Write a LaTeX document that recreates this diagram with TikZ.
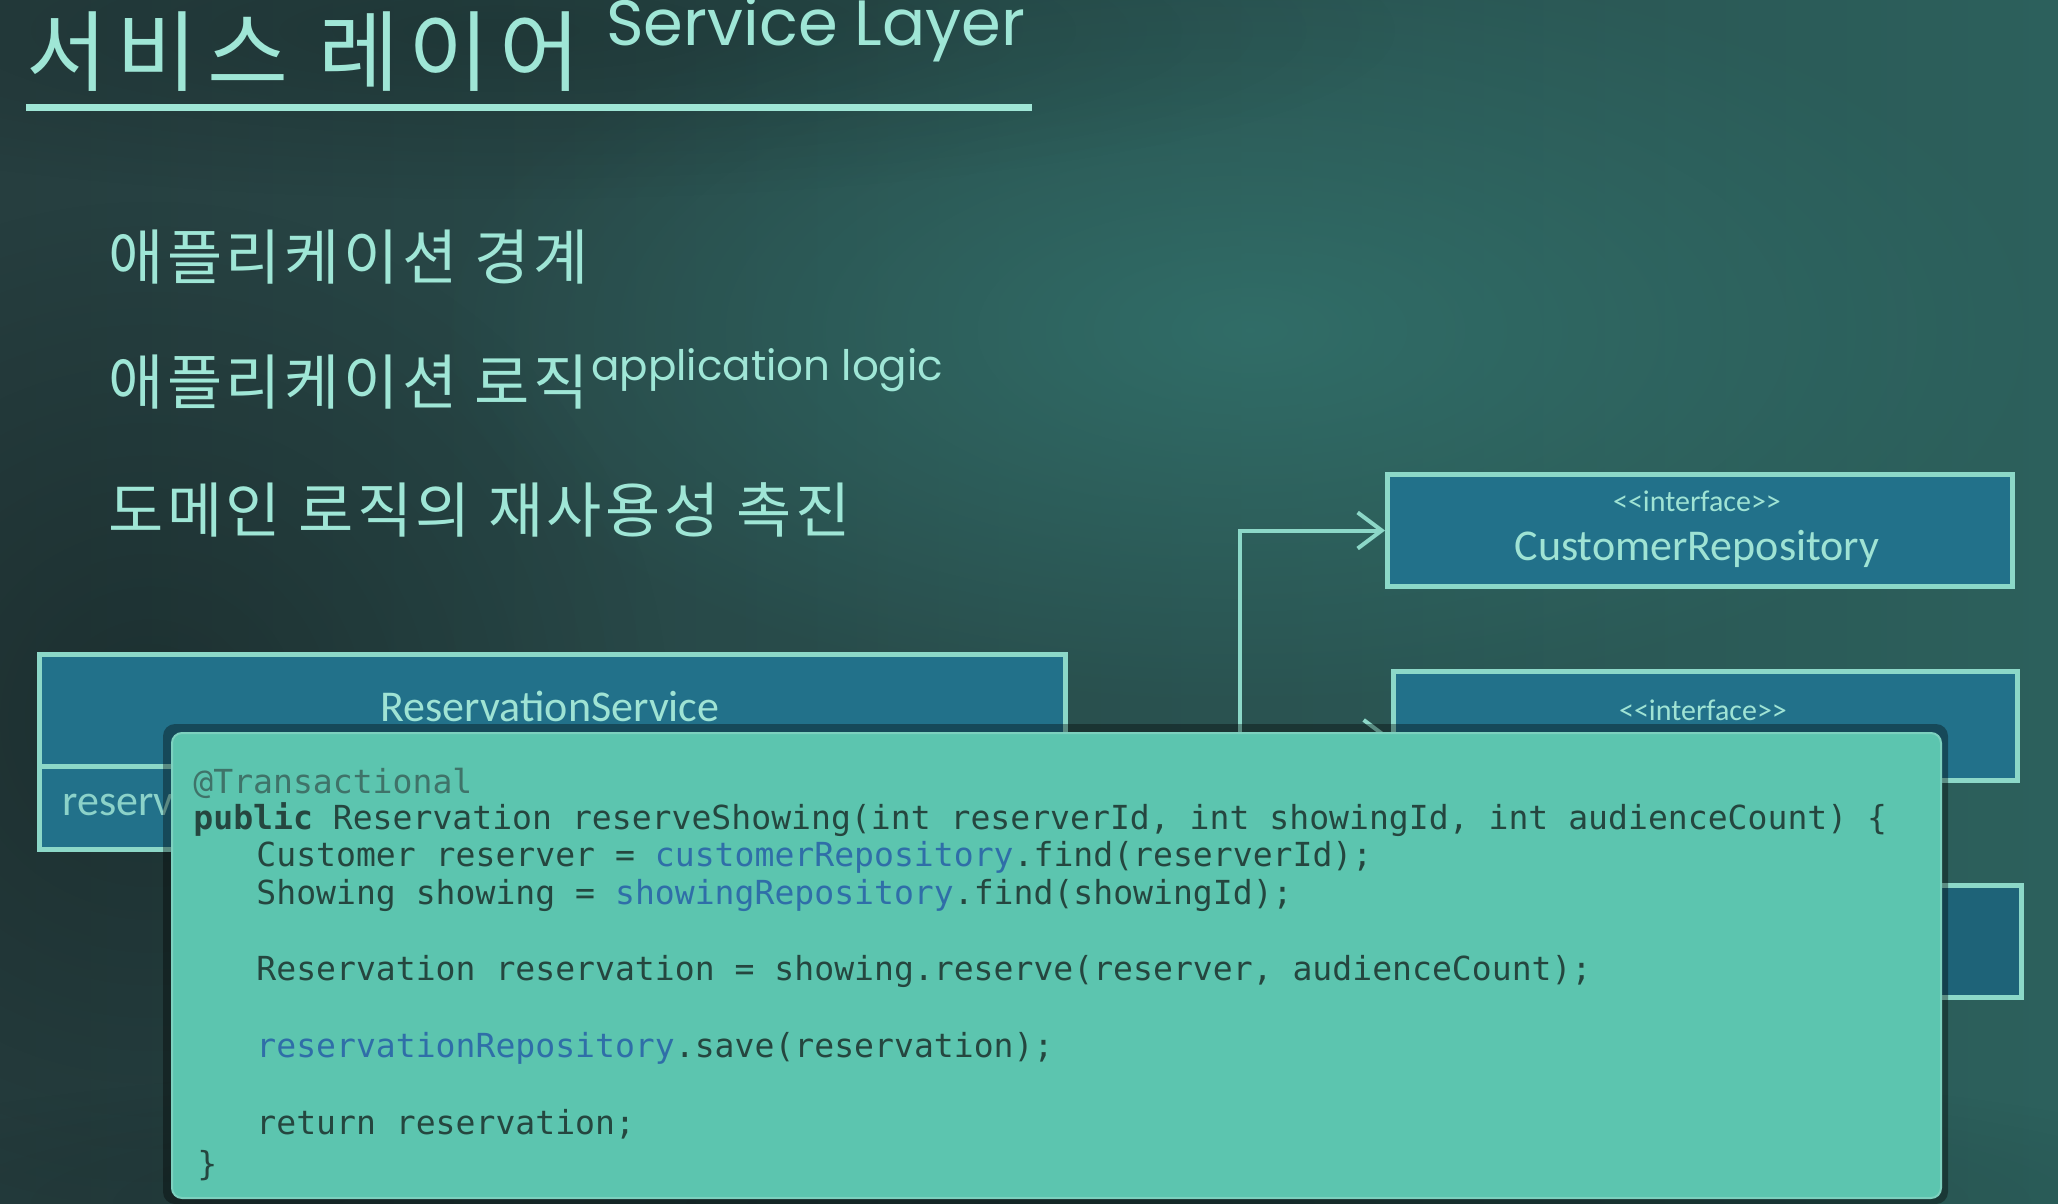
\documentclass[tikz,border=0pt]{standalone}
\usepackage{fontspec}
\setmainfont{Carlito}
\newfontfamily\krtitle[LetterSpace=11]{Noto Sans CJK KR}
\newfontfamily\krfont[LetterSpace=6]{Noto Sans CJK KR}
\newfontfamily\handlat{Poppins}
\newfontfamily\codefont{DejaVu Sans Mono}
\usetikzlibrary{arrows.meta,fadings}

\definecolor{boardA}{HTML}{263E3F}
\definecolor{boardB}{HTML}{2C605C}
\definecolor{boardglow}{HTML}{33766F}
\definecolor{chalk}{HTML}{9FE6D6}
\definecolor{umlfill}{HTML}{22718A}
\definecolor{umlfilldark}{HTML}{1E6378}
\definecolor{umledge}{HTML}{8CD8C8}
\definecolor{umltext}{HTML}{9FE3D4}
\definecolor{codebg}{HTML}{5CC5AF}
\definecolor{codetext}{HTML}{25463F}
\definecolor{codefield}{HTML}{2F6EA8}
\definecolor{codeanno}{HTML}{3F7369}

\tikzfading[name=softblob, inner color=transparent!0, outer color=transparent!100]

\tikzset{
  chalktext/.style={text=chalk, inner sep=0pt, anchor=base west},
  umlbox/.style={draw=umledge, line width=2.5pt, fill=umlfill, inner sep=0pt, anchor=north west},
  umllabel/.style={text=umltext, inner sep=0pt},
  conn/.style={draw=umledge, line width=2pt},
  dep/.style={conn, -{Straight Barb[length=12pt,width=18pt,line width=2pt]}},
  codeline/.style={text=codetext, inner sep=0pt, anchor=base west,
    font=\codefont\fontsize{16.55}{19}\selectfont}
}

\begin{document}
\begin{tikzpicture}[x=0.5pt,y=-0.5pt]
  \useasboundingbox (0,0) rectangle (2058,1204);

  % chalkboard background
  \shade[left color=boardA, right color=boardB] (0,0) rectangle (2058,1204);
  \fill[boardglow, path fading=softblob, opacity=0.75] (1250,330) ellipse (820 and 380);
  \fill[black, path fading=softblob, opacity=0.25] (150,720) ellipse (520 and 520);
  \fill[black, path fading=softblob, opacity=0.2] (500,30) ellipse (900 and 170);
  \fill[black, path fading=softblob, opacity=0.25] (1000,1204) ellipse (1300 and 160);

  % heading
  \node[chalktext, font=\krtitle\fontsize{44}{48}\selectfont] (title) at (26,85) {서비스 레이어};
  \node[chalktext, font=\handlat\fontsize{32}{36}\selectfont] (titleen) at (606,46) {Service Layer};
  \draw[chalk, line width=3.5pt] (26,108) -- (1032,108);

  % points
  \node[chalktext, font=\krfont\fontsize{30}{34}\selectfont] (p1) at (108,279) {애플리케이션 경계};
  \node[chalktext, font=\krfont\fontsize{30}{34}\selectfont] (p2) at (108,404) {애플리케이션 로직};
  \node[chalktext, font=\handlat\fontsize{21}{24}\selectfont] (p2en) at ([xshift=1pt,yshift=12pt]p2.base east) {application logic};
  \node[chalktext, font=\krfont\fontsize{30}{34}\selectfont] (p3) at (108,532) {도메인 로직의 재사용성 촉진};

  % class boxes
  \node[umlbox, minimum width=513pt, minimum height=97.5pt] (rs) at (37,652) {};
  \draw[umledge, line width=2.5pt] (37,766) -- (1063,766);
  \node[umllabel, font=\fontsize{22}{26}\selectfont] (rsname) at (550,706) {ReservationService};
  \node[umllabel, anchor=west, font=\fontsize{22}{26}\selectfont, text=umltext!85!umlfill] (rsop) at (62,805) {reserv};

  \node[umlbox, minimum width=312.5pt, minimum height=56pt] (cr) at (1385,472) {};
  \node[umllabel, font=\fontsize{15}{17}\selectfont] (crst) at (1697,501) {<{}<interface>{}>};
  \node[umllabel, font=\fontsize{22}{26}\selectfont] (crname) at (1697,549) {CustomerRepository};

  \node[umlbox, minimum width=312pt, minimum height=54.5pt] (r2) at (1391,669) {};
  \node[umllabel, font=\fontsize{15}{17}\selectfont] (r2st) at (1703,710) {<{}<interface>{}>};

  \node[umlbox, fill=umlfilldark, minimum width=314pt, minimum height=56pt] (r3) at (1391,883) {};

  % dependencies
  \coordinate (j) at (1240,738);
  \draw[conn] (rs.east |- j) -- (j);
  \draw[dep] (j) |- (cr.west);
  \draw[dep] (j) -- (j -| r2.west);

  % code listing
  \fill[black, opacity=0.35, rounded corners=6pt] (163,724) rectangle (1948,1204);
  \node[fill=codebg, draw=codebg!80!white, line width=1pt, rounded corners=5pt,
        minimum width=884.5pt, minimum height=232.5pt, inner sep=0pt, anchor=north west] (code) at (171,732) {};

  \node[codeline, text=codeanno] (c0) at (193,793) {@Transactional};
  \node[codeline] (c1) at (193,829) {\textbf{public} Reservation reserveShowing(int reserverId, int showingId, int audienceCount) \{};
  \node[codeline] (c2) at (256,866) {Customer reserver = {\color{codefield}customerRepository}.find(reserverId);};
  \node[codeline] (c3) at (256,904) {Showing showing = {\color{codefield}showingRepository}.find(showingId);};
  \node[codeline] (c4) at (256,980) {Reservation reservation = showing.reserve(reserver, audienceCount);};
  \node[codeline] (c5) at (256,1057) {{\color{codefield}reservationRepository}.save(reservation);};
  \node[codeline] (c6) at (256,1134) {return reservation;};
  \node[codeline] (c7) at (197,1175) {\}};
\end{tikzpicture}
\end{document}
